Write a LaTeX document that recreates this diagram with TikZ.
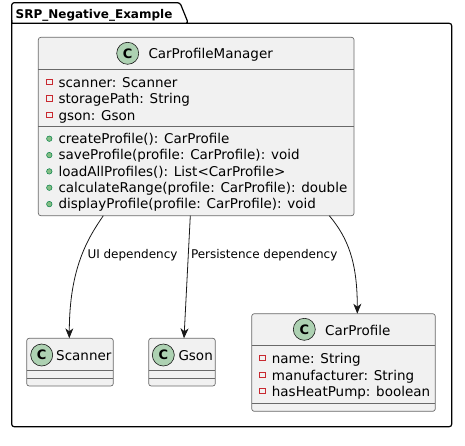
\documentclass[tikz,border=0pt]{standalone}
\usepackage{fontspec}
\setmainfont{DejaVu Sans}
\usetikzlibrary{arrows.meta}
\definecolor{bordercol}{RGB}{24,24,24}
\definecolor{linecol}{RGB}{105,105,105}
\definecolor{boxfill}{RGB}{241,241,241}
\definecolor{circfill}{RGB}{173,209,178}
\definecolor{privred}{RGB}{200,41,48}
\definecolor{pubfill}{RGB}{132,190,132}
\definecolor{pubdraw}{RGB}{3,128,72}
\newcommand{\mfont}{\fontsize{13.5}{15}\selectfont}
\begin{document}
\begin{tikzpicture}[x=1pt,y=-1pt,
 clsbox/.style={draw=linecol, fill=boxfill, line width=0.7pt, rounded corners=2.5pt, rectangle, inner sep=0pt, outer sep=0pt, anchor=north west},
 sep/.style={draw=linecol, line width=0.7pt},
 circ/.style={circle, draw=bordercol, fill=circfill, line width=0.6pt, minimum size=22pt, inner sep=0pt, font=\fontsize{13}{13}\selectfont\bfseries},
 txt/.style={anchor=base west, inner sep=0pt, font=\mfont},
 priv/.style={draw=privred, line width=0.6pt, minimum size=5.5pt, inner sep=0pt, rectangle},
 pub/.style={circle, draw=pubdraw, fill=pubfill, line width=0.5pt, minimum size=5.5pt, inner sep=0pt},
 dep/.style={draw=bordercol, line width=0.8pt, -{Stealth[length=10pt,width=8pt,inset=3pt]}},
 lbl/.style={anchor=west, inner sep=0pt, font=\fontsize{12}{12}\selectfont}]
\useasboundingbox (0,0) rectangle (465,445);
% package frame
\draw[line width=1.2pt, black, rounded corners=2.5pt] (11.7,23.3) -- (11.7,2.7) -- (180,2.7) -- (188.3,23.3) -- (11.7,23.3);
\draw[line width=1.2pt, black, rounded corners=2.5pt] (11.7,20) -- (11.7,426.7) -- (451.7,426.7) -- (451.7,23.3) -- (186,23.3);
\node[anchor=base west, inner sep=0pt, font=\fontsize{12}{12}\selectfont\bfseries] (pkgtitle) at (15.5,18.3) {SRP\_Negative\_Example};

% CarProfileManager
\node[clsbox, minimum width=315.7pt, minimum height=178.4pt] (mgr) at (38.3,37.3) {};
\draw[sep] (38.3,69.3) -- (354,69.3);
\draw[sep] (38.3,126.7) -- (354,126.7);
\node[circ] (mgrc) at (127.7,53.3) {C};
\node[txt] (mgrt) at (148.3,58.3) {CarProfileManager};
\node[priv] (ma1) at (49.3,81.7) {};
\node[txt] (mat1) at (58.3,87) {scanner: Scanner};
\node[priv] (ma2) at (49.3,98.2) {};
\node[txt] (mat2) at (58.3,103.5) {storagePath: String};
\node[priv] (ma3) at (49.3,114.7) {};
\node[txt] (mat3) at (58.3,120) {gson: Gson};
\node[pub] (mm1) at (49.3,138.7) {};
\node[txt] (mmt1) at (58.3,143.3) {createProfile(): CarProfile};
\node[pub] (mm2) at (49.3,155.1) {};
\node[txt] (mmt2) at (58.3,159.7) {saveProfile(profile: CarProfile): void};
\node[pub] (mm3) at (49.3,171.4) {};
\node[txt] (mmt3) at (58.3,176) {loadAllProfiles(): List<CarProfile>};
\node[pub] (mm4) at (49.3,187.7) {};
\node[txt] (mmt4) at (58.3,192.3) {calculateRange(profile: CarProfile): double};
\node[pub] (mm5) at (49.3,204.1) {};
\node[txt] (mmt5) at (58.3,208.7) {displayProfile(profile: CarProfile): void};

% Scanner
\node[clsbox, minimum width=86.6pt, minimum height=47.7pt] (scn) at (26.7,338.3) {};
\draw[sep] (26.7,370.7) -- (113.3,370.7);
\draw[sep] (26.7,378.3) -- (113.3,378.3);
\node[circ] (scnc) at (41.7,355) {C};
\node[txt] (scnt) at (56,360.7) {Scanner};

% Gson
\node[clsbox, minimum width=66.6pt, minimum height=47.7pt] (gsn) at (148.7,338.3) {};
\draw[sep] (148.7,370.7) -- (215.3,370.7);
\draw[sep] (148.7,378.3) -- (215.3,378.3);
\node[circ] (gsnc) at (163.3,355) {C};
\node[txt] (gsnt) at (178.3,360.7) {Gson};

% CarProfile
\node[clsbox, minimum width=183.6pt, minimum height=97.6pt] (cp) at (251.7,313.7) {};
\draw[sep] (251.7,345.7) -- (435.3,345.7);
\draw[sep] (251.7,403.3) -- (435.3,403.3);
\node[circ] (cpc) at (304.3,329.3) {C};
\node[txt] (cpt) at (325,335) {CarProfile};
\node[priv] (ca1) at (262.3,358) {};
\node[txt] (cat1) at (271.7,363.3) {name: String};
\node[priv] (ca2) at (262.3,374.7) {};
\node[txt] (cat2) at (271.7,380) {manufacturer: String};
\node[priv] (ca3) at (262.3,390.7) {};
\node[txt] (cat3) at (271.7,396) {hasHeatPump: boolean};

% connectors
\draw[dep] ([xshift=65pt]mgr.south west) .. controls (88,238) and (69.3,268) .. ([xshift=42.6pt]scn.north west);
\draw[dep] ([xshift=152pt]mgr.south west) -- ([xshift=35.3pt]gsn.north west);
\draw[dep] ([xshift=291pt]mgr.south west) .. controls (348,238) and (357.3,262) .. ([xshift=105.6pt]cp.north west);
\node[lbl] (l1) at (87.3,255) {UI dependency};
\node[lbl] (l2) at (190.8,255) {Persistence dependency};
\end{tikzpicture}
\end{document}
